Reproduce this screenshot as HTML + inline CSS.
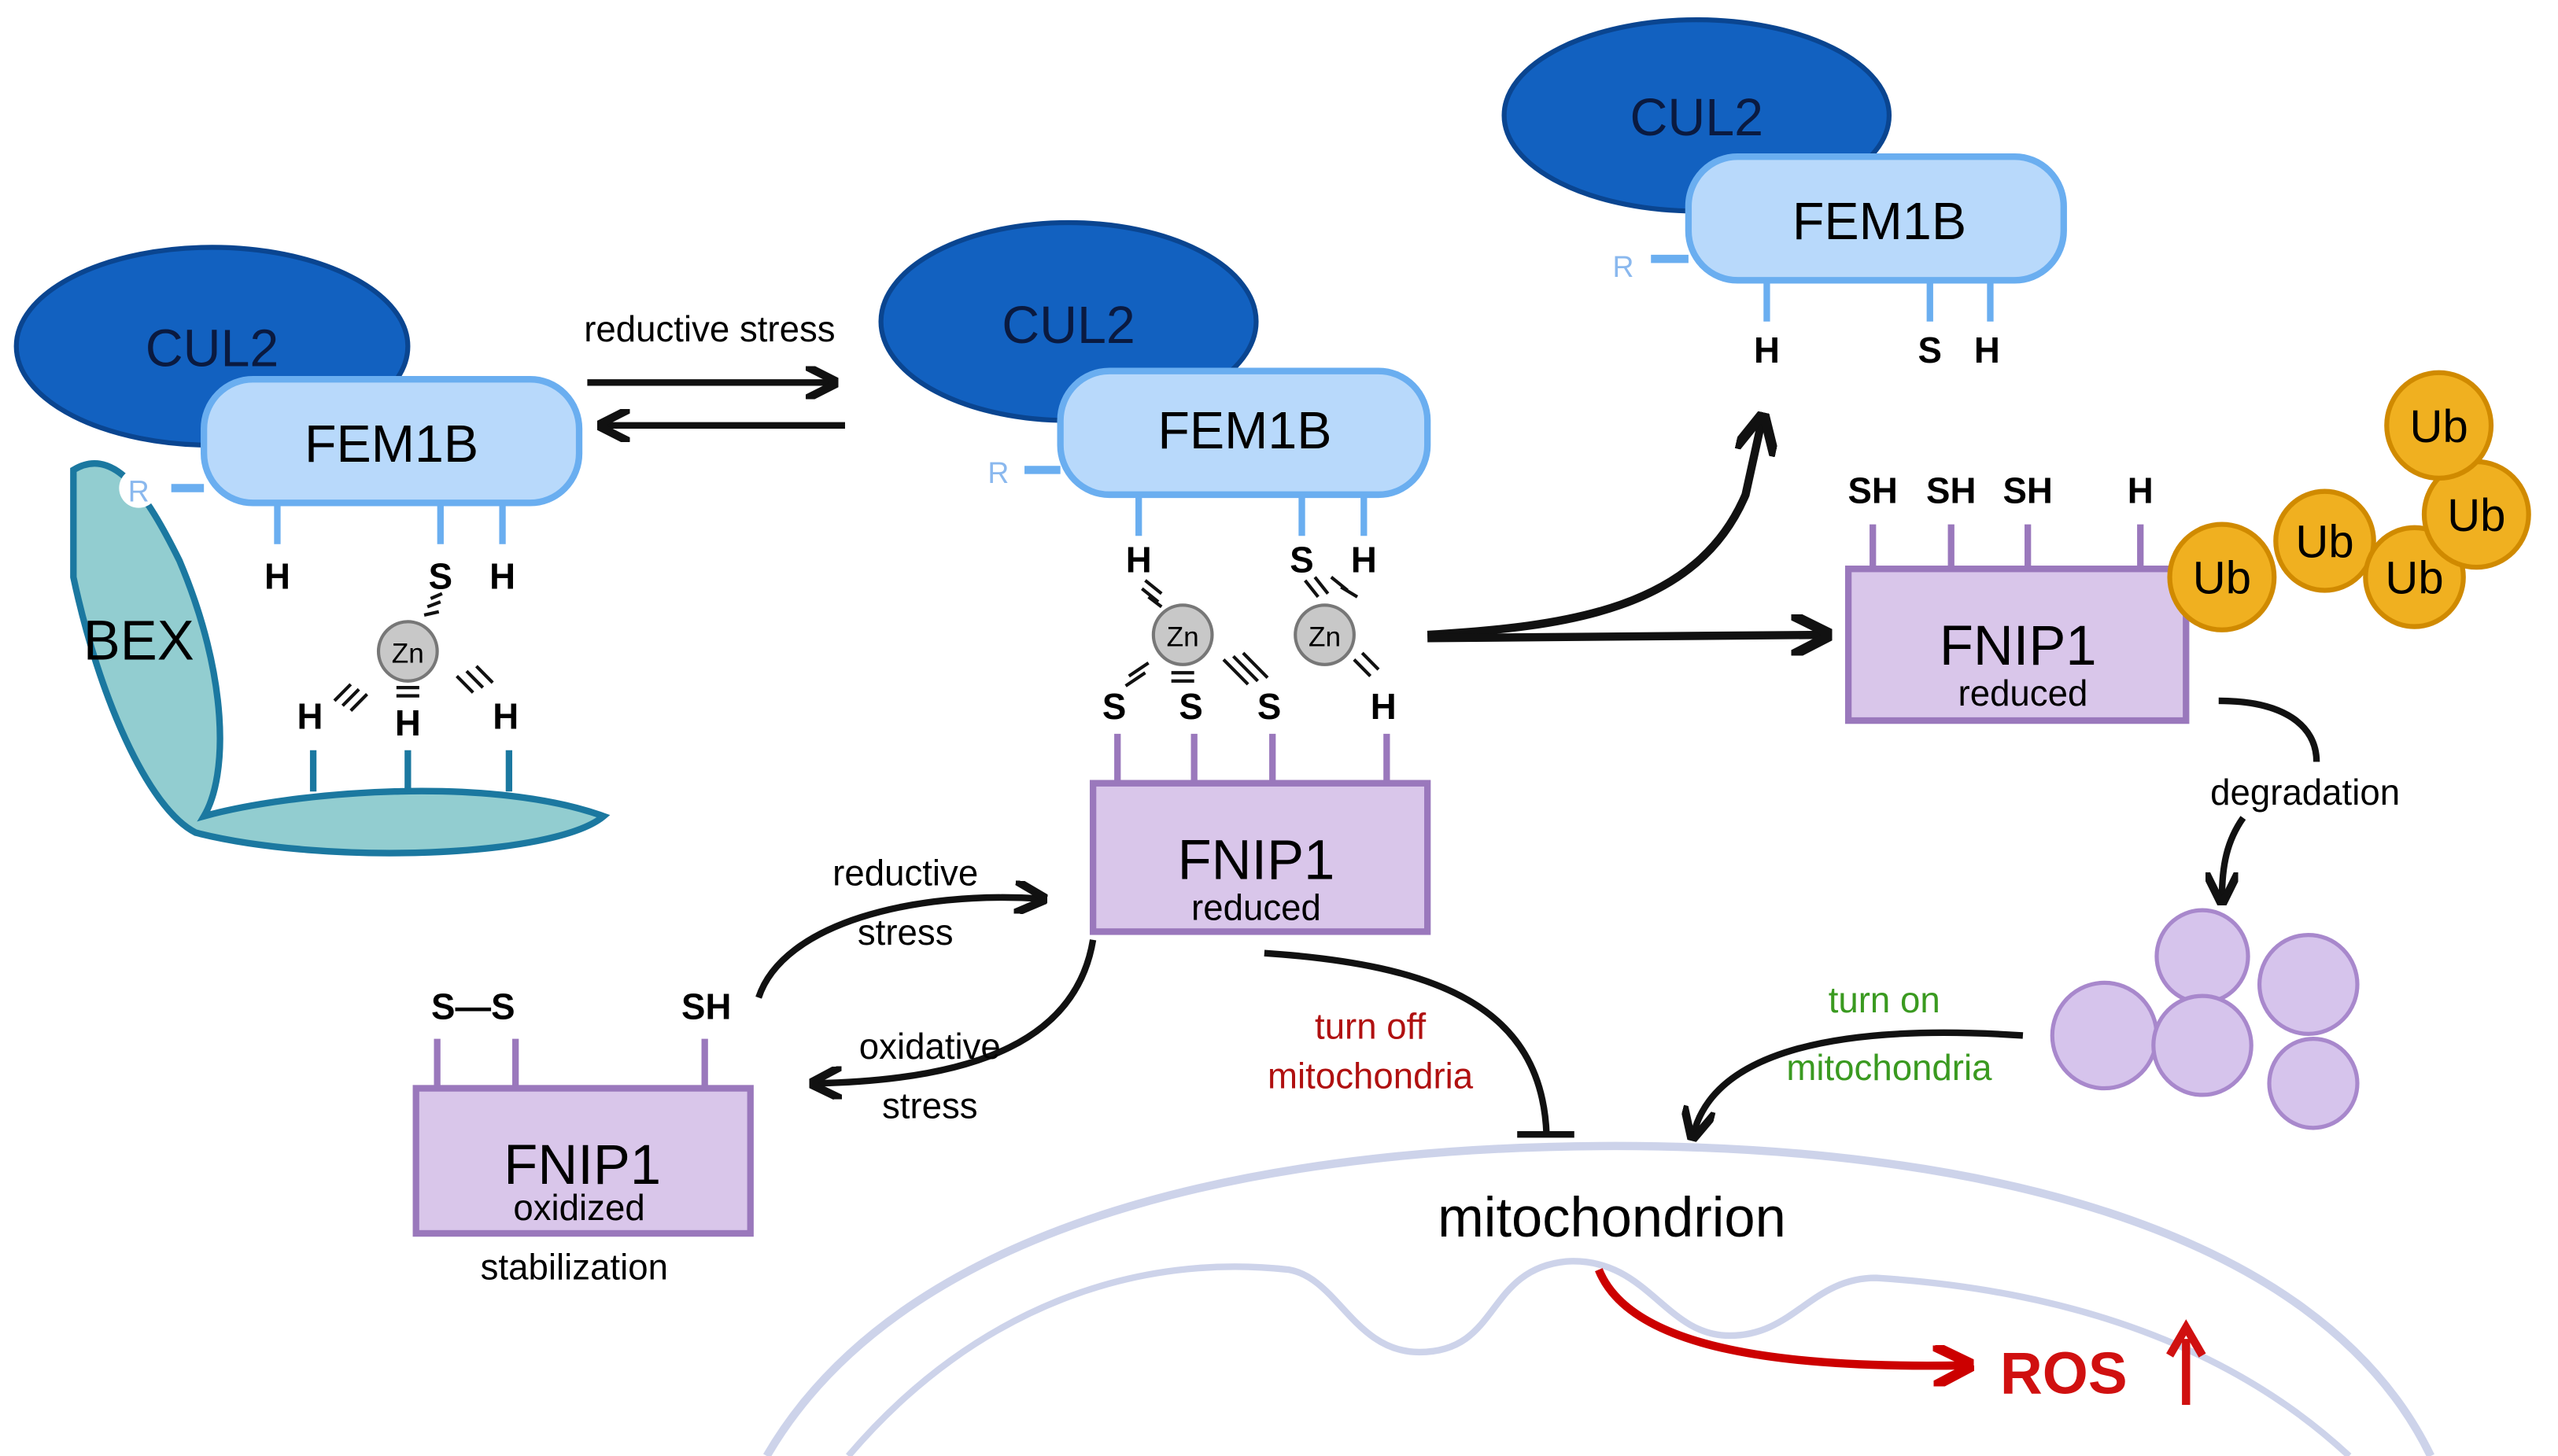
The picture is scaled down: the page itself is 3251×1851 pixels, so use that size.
<!DOCTYPE html>
<html><head><meta charset="utf-8"><style>html,body{margin:0;padding:0;background:#fff}svg{display:block}</style></head>
<body>
<svg width="3251" height="1851" viewBox="0 0 1568 883" preserveAspectRatio="none" xmlns="http://www.w3.org/2000/svg" font-family="Liberation Sans, sans-serif">
<defs>
<marker id="ah" viewBox="0 0 10 10" refX="8" refY="5" markerWidth="5" markerHeight="5" orient="auto"><path d="M0,0 L10,5 L0,10" fill="none" stroke="#111" stroke-width="2.5"/></marker>
<marker id="ahr" viewBox="0 0 10 10" refX="8" refY="5" markerWidth="5" markerHeight="5" orient="auto"><path d="M0,0 L10,5 L0,10" fill="none" stroke="#c00" stroke-width="2.5"/></marker>
</defs>
<!-- mitochondrion -->
<path d="M470,883 C560,730 800,695 990,695 C1200,695 1420,740 1490,883" fill="none" stroke="#cdd3ea" stroke-width="5"/>
<path d="M520,883 C600,790 700,760 790,770 C820,775 830,820 870,820 C920,820 910,770 960,765 C1010,762 1020,810 1060,810 C1100,810 1110,775 1150,775 C1230,780 1350,800 1440,883" fill="none" stroke="#cdd3ea" stroke-width="4"/>
<!-- BEX -->
<path d="M45,285 C70,270 90,300 110,340 C140,410 140,470 125,495 C180,480 300,470 370,495 C340,520 200,525 120,505 C90,490 60,420 45,350 Z" fill="#92cdd0" stroke="#1b78a0" stroke-width="4"/>
<text x="85" y="400" font-size="34" text-anchor="middle">BEX</text>
<g stroke="#1b78a0" stroke-width="4"><line x1="192" y1="455" x2="192" y2="480"/><line x1="250" y1="455" x2="250" y2="480"/><line x1="312" y1="455" x2="312" y2="480"/></g>
<!-- left CUL2/FEM1B -->
<ellipse cx="130" cy="210" rx="120" ry="60" fill="#1261c0" stroke="#0a4590" stroke-width="3"/>
<text x="130" y="222" font-size="32" text-anchor="middle" fill="#0a1a40">CUL2</text>
<rect x="125" y="230" width="230" height="75" rx="30" fill="#b8d9fb" stroke="#6aaef0" stroke-width="4"/>
<text x="240" y="280" font-size="32" text-anchor="middle">FEM1B</text>
<line x1="105" y1="296" x2="125" y2="296" stroke="#6aaef0" stroke-width="5"/>
<circle cx="85" cy="296" r="12" fill="#fff"/><text x="85" y="304" font-size="18" text-anchor="middle" fill="#8ab8ee">R</text>
<g stroke="#6aaef0" stroke-width="4"><line x1="170" y1="305" x2="170" y2="330"/><line x1="270" y1="305" x2="270" y2="330"/><line x1="308" y1="305" x2="308" y2="330"/></g>
<g font-size="22" font-weight="bold" text-anchor="middle"><text x="170" y="357">H</text><text x="270" y="357">S</text><text x="308" y="357">H</text>
<text x="190" y="442">H</text><text x="250" y="446">H</text><text x="310" y="442">H</text></g>
<circle cx="250" cy="395" r="18" fill="#c8c8c8" stroke="#777" stroke-width="2"/><text x="250" y="402" font-size="17" text-anchor="middle">Zn</text>
<g stroke="#111" stroke-width="2"><path d="M262,368 l8,-3 M260,373 l9,-2 M264,363 l7,-3"/><path d="M205,425 l10,-10 M210,428 l10,-10 M215,431 l10,-10"/><path d="M280,410 l10,10 M286,407 l10,10 M292,404 l10,10"/><path d="M243,417 h14 M243,422 h14"/></g>
<!-- equilibrium -->
<text x="435" y="207" font-size="22" text-anchor="middle">reductive stress</text>
<line x1="360" y1="232" x2="510" y2="232" stroke="#111" stroke-width="4" marker-end="url(#ah)"/>
<line x1="518" y1="258" x2="370" y2="258" stroke="#111" stroke-width="4" marker-end="url(#ah)"/>
<!-- middle -->
<ellipse cx="655" cy="195" rx="115" ry="60" fill="#1261c0" stroke="#0a4590" stroke-width="3"/>
<text x="655" y="208" font-size="32" text-anchor="middle" fill="#0a1a40">CUL2</text>
<rect x="650" y="225" width="225" height="75" rx="30" fill="#b8d9fb" stroke="#6aaef0" stroke-width="4"/>
<text x="763" y="272" font-size="32" text-anchor="middle">FEM1B</text>
<line x1="628" y1="285" x2="650" y2="285" stroke="#6aaef0" stroke-width="5"/><text x="612" y="293" font-size="18" fill="#8ab8ee" text-anchor="middle">R</text>
<g stroke="#6aaef0" stroke-width="4"><line x1="698" y1="300" x2="698" y2="325"/><line x1="798" y1="300" x2="798" y2="325"/><line x1="836" y1="300" x2="836" y2="325"/></g>
<g font-size="22" font-weight="bold" text-anchor="middle"><text x="698" y="347">H</text><text x="798" y="347">S</text><text x="836" y="347">H</text>
<text x="683" y="436">S</text><text x="730" y="436">S</text><text x="778" y="436">S</text><text x="848" y="436">H</text></g>
<circle cx="725" cy="385" r="18" fill="#c8c8c8" stroke="#777" stroke-width="2"/><text x="725" y="392" font-size="17" text-anchor="middle">Zn</text>
<circle cx="812" cy="385" r="18" fill="#c8c8c8" stroke="#777" stroke-width="2"/><text x="812" y="392" font-size="17" text-anchor="middle">Zn</text>
<g stroke="#111" stroke-width="2"><path d="M702,352 l10,8 M700,357 l10,8 M704,362 l8,6"/><path d="M800,352 l8,10 M806,350 l8,10 M816,350 l10,8 M822,356 l10,6"/><path d="M718,408 h14 M718,413 h14"/><path d="M750,400 l15,15 M756,398 l15,15 M762,396 l15,15"/><path d="M692,410 l12,-8 M690,416 l12,-8"/><path d="M830,400 l10,10 M835,396 l10,10"/></g>
<rect x="670" y="475" width="205" height="90" fill="#d9c6ea" stroke="#9a78bc" stroke-width="4"/>
<g stroke="#9a78bc" stroke-width="4"><line x1="685" y1="445" x2="685" y2="475"/><line x1="732" y1="445" x2="732" y2="475"/><line x1="780" y1="445" x2="780" y2="475"/><line x1="850" y1="445" x2="850" y2="475"/></g>
<text x="770" y="533" font-size="34" text-anchor="middle">FNIP1</text><text x="770" y="558" font-size="22" text-anchor="middle">reduced</text>
<!-- branching arrows -->
<path d="M875,385 C960,380 1040,370 1070,300 L1080,255" fill="none" stroke="#111" stroke-width="5" marker-end="url(#ah)"/>
<path d="M875,387 L1118,385" fill="none" stroke="#111" stroke-width="5" marker-end="url(#ah)"/>
<!-- top right -->
<ellipse cx="1040" cy="70" rx="118" ry="58" fill="#1261c0" stroke="#0a4590" stroke-width="3"/>
<text x="1040" y="82" font-size="32" text-anchor="middle" fill="#0a1a40">CUL2</text>
<rect x="1035" y="95" width="230" height="75" rx="30" fill="#b8d9fb" stroke="#6aaef0" stroke-width="4"/>
<text x="1152" y="145" font-size="32" text-anchor="middle">FEM1B</text>
<line x1="1012" y1="157" x2="1035" y2="157" stroke="#6aaef0" stroke-width="5"/><text x="995" y="168" font-size="18" fill="#8ab8ee" text-anchor="middle">R</text>
<g stroke="#6aaef0" stroke-width="4"><line x1="1083" y1="170" x2="1083" y2="195"/><line x1="1183" y1="170" x2="1183" y2="195"/><line x1="1220" y1="170" x2="1220" y2="195"/></g>
<g font-size="22" font-weight="bold" text-anchor="middle"><text x="1083" y="220">H</text><text x="1183" y="220">S</text><text x="1218" y="220">H</text>
<text x="1148" y="305">SH</text><text x="1196" y="305">SH</text><text x="1243" y="305">SH</text><text x="1312" y="305">H</text></g>
<rect x="1133" y="345" width="207" height="92" fill="#d9c6ea" stroke="#9a78bc" stroke-width="4"/>
<g stroke="#9a78bc" stroke-width="4"><line x1="1148" y1="318" x2="1148" y2="345"/><line x1="1196" y1="318" x2="1196" y2="345"/><line x1="1243" y1="318" x2="1243" y2="345"/><line x1="1312" y1="318" x2="1312" y2="345"/></g>
<text x="1237" y="403" font-size="34" text-anchor="middle">FNIP1</text><text x="1240" y="428" font-size="22" text-anchor="middle">reduced</text>
<g fill="#f0b020" stroke="#d08a00" stroke-width="3"><circle cx="1362" cy="350" r="32"/><circle cx="1425" cy="328" r="30"/><circle cx="1480" cy="350" r="30"/><circle cx="1518" cy="312" r="32"/><circle cx="1495" cy="258" r="32"/></g>
<g font-size="28" text-anchor="middle"><text x="1362" y="360">Ub</text><text x="1425" y="338">Ub</text><text x="1480" y="360">Ub</text><text x="1518" y="322">Ub</text><text x="1495" y="268">Ub</text></g>
<!-- degradation -->
<path d="M1360,425 C1400,425 1420,440 1420,462" fill="none" stroke="#111" stroke-width="4"/>
<text x="1413" y="488" font-size="22" text-anchor="middle">degradation</text>
<path d="M1375,496 C1365,510 1362,525 1362,545" fill="none" stroke="#111" stroke-width="4" marker-end="url(#ah)"/>
<g fill="#d6c4ec" stroke="#a888cc" stroke-width="2.5"><circle cx="1350" cy="580" r="28"/><circle cx="1415" cy="597" r="30"/><circle cx="1290" cy="628" r="32"/><circle cx="1350" cy="634" r="30"/><circle cx="1418" cy="657" r="27"/></g>
<text x="1155" y="614" font-size="22" fill="#3a9a20" text-anchor="middle">turn on</text>
<text x="1158" y="655" font-size="22" fill="#3a9a20" text-anchor="middle">mitochondria</text>
<path d="M1240,628 C1120,620 1050,640 1038,688" fill="none" stroke="#111" stroke-width="4" marker-end="url(#ah)"/>
<!-- oxidized -->
<g font-size="22" font-weight="bold" text-anchor="middle"><text x="290" y="618">S—S</text><text x="433" y="618">SH</text></g>
<rect x="255" y="660" width="205" height="88" fill="#d9c6ea" stroke="#9a78bc" stroke-width="4"/>
<g stroke="#9a78bc" stroke-width="4"><line x1="268" y1="630" x2="268" y2="660"/><line x1="316" y1="630" x2="316" y2="660"/><line x1="432" y1="630" x2="432" y2="660"/></g>
<text x="357" y="718" font-size="34" text-anchor="middle">FNIP1</text><text x="355" y="740" font-size="22" text-anchor="middle">oxidized</text>
<text x="352" y="776" font-size="22" text-anchor="middle">stabilization</text>
<text x="555" y="537" font-size="22" text-anchor="middle">reductive</text><text x="555" y="573" font-size="22" text-anchor="middle">stress</text>
<path d="M465,605 C480,560 560,540 638,545" fill="none" stroke="#111" stroke-width="4" marker-end="url(#ah)"/>
<path d="M670,570 C660,630 600,655 500,657" fill="none" stroke="#111" stroke-width="4" marker-end="url(#ah)"/>
<text x="570" y="642" font-size="22" text-anchor="middle">oxidative</text><text x="570" y="678" font-size="22" text-anchor="middle">stress</text>
<text x="840" y="630" font-size="22" fill="#b01010" text-anchor="middle">turn off</text>
<text x="840" y="660" font-size="22" fill="#b01010" text-anchor="middle">mitochondria</text>
<path d="M775,578 C880,585 945,610 948,688" fill="none" stroke="#111" stroke-width="4"/>
<line x1="930" y1="688" x2="965" y2="688" stroke="#111" stroke-width="4"/>
<text x="988" y="750" font-size="34" text-anchor="middle">mitochondrion</text>
<path d="M980,770 C1000,820 1100,830 1205,828" fill="none" stroke="#c00" stroke-width="5" marker-end="url(#ahr)"/>
<text x="1265" y="845" font-size="36" font-weight="bold" fill="#d01010" text-anchor="middle">ROS</text>
<path d="M1340,852 V812 M1330,822 L1340,805 L1350,822" fill="none" stroke="#d01010" stroke-width="5"/>
</svg>
</body></html>
